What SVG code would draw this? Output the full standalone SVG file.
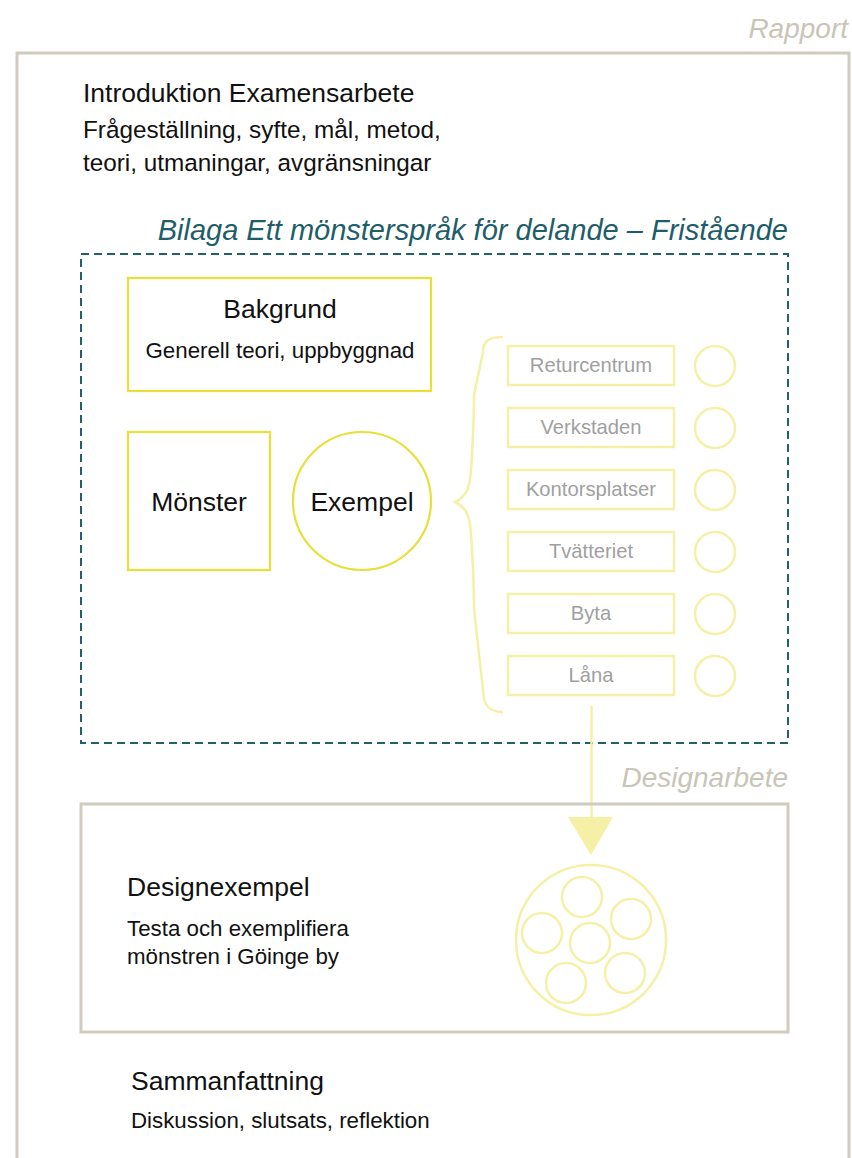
<svg xmlns="http://www.w3.org/2000/svg" width="852" height="1158" viewBox="0 0 852 1158">
<style>
text{font-family:"Liberation Sans",Arial,sans-serif;}
.frame{fill:none;stroke:#cfccbf;stroke-width:3;}
.ylw{fill:none;stroke:#e9df3a;stroke-width:2.2;}
.pale{fill:none;stroke:#f5f0a6;stroke-width:2.5;}
.t26{font-size:26.5px;fill:#111;}
.t22{font-size:22.3px;fill:#111;}
.lbl{font-size:28px;font-style:italic;fill:#c8c5b8;}
.item{font-size:20.2px;fill:#9f9f9f;text-anchor:middle;}
</style>
<rect width="852" height="1158" fill="#fff"/>
<g id="rapport">
<path class="frame" d="M17,1160 V53 H849 V1160"/>
<text class="lbl" x="848" y="38" text-anchor="end">Rapport</text>
</g>
<g id="intro">
<text class="t26" x="83" y="102">Introduktion Examensarbete</text>
<text x="83" y="138" font-size="24.3" fill="#111">Frågeställning, syfte, mål, metod,</text>
<text x="83" y="171" font-size="24.3" fill="#111">teori, utmaningar, avgränsningar</text>
</g>
<g id="bilaga">
<rect x="81" y="254" width="707" height="489" fill="none" stroke="#24606b" stroke-width="2" stroke-dasharray="8,5"/>
<text x="788" y="240" text-anchor="end" font-size="29" font-style="italic" fill="#1f5d69">Bilaga Ett mönsterspråk för delande – Fristående</text>
</g>
<g id="bakgrund">
<rect class="ylw" x="128" y="278" width="303" height="113"/>
<text class="t26" x="280" y="318" text-anchor="middle">Bakgrund</text>
<text class="t22" x="280" y="358" text-anchor="middle">Generell teori, uppbyggnad</text>
</g>
<g id="monster">
<rect class="ylw" x="128" y="432" width="142" height="138"/>
<text class="t26" x="199" y="511" text-anchor="middle">Mönster</text>
</g>
<g id="exempel">
<circle class="ylw" cx="362" cy="501" r="69"/>
<text class="t26" x="362" y="511" text-anchor="middle">Exempel</text>
</g>
<g id="brace">
<path class="pale" d="M503,337 C488,337 483,342 483,352 L474,395 C474,410 473,440 471,470 C470,488 466,497 455,502 C466,507 470,516 471,534 C473,564 474,594 474,609 L483,690 C483,704 488,712 503,712"/>
</g>
<g id="items">
<g id="returcentrum"><rect class="pale" x="508" y="346" width="166" height="39"/><text class="item" x="591" y="372">Returcentrum</text><circle class="pale" cx="715" cy="366" r="20"/></g>
<g id="verkstaden"><rect class="pale" x="508" y="408" width="166" height="39"/><text class="item" x="591" y="434">Verkstaden</text><circle class="pale" cx="715" cy="428" r="20"/></g>
<g id="kontorsplatser"><rect class="pale" x="508" y="470" width="166" height="39"/><text class="item" x="591" y="496">Kontorsplatser</text><circle class="pale" cx="715" cy="490" r="20"/></g>
<g id="tvatteriet"><rect class="pale" x="508" y="532" width="166" height="39"/><text class="item" x="591" y="558">Tvätteriet</text><circle class="pale" cx="715" cy="552" r="20"/></g>
<g id="byta"><rect class="pale" x="508" y="594" width="166" height="39"/><text class="item" x="591" y="620">Byta</text><circle class="pale" cx="715" cy="614" r="20"/></g>
<g id="lana"><rect class="pale" x="508" y="656" width="166" height="39"/><text class="item" x="591" y="682">Låna</text><circle class="pale" cx="715" cy="676" r="20"/></g>
</g>
<g id="connectors">
<line x1="591.5" y1="706" x2="591.5" y2="820" stroke="#f5f0a6" stroke-width="2.5"/>
<polygon points="568,817 613,817 591,855" fill="#f5f0a6"/>
</g>
<g id="designarbete">
<text class="lbl" x="788" y="787" text-anchor="end" font-size="27.7">Designarbete</text>
<rect class="frame" x="81" y="804" width="707" height="228"/>
<text class="t26" x="127" y="896">Designexempel</text>
<text class="t22" x="127" y="936">Testa och exemplifiera</text>
<text class="t22" x="127" y="964">mönstren i Göinge by</text>
</g>
<g id="cluster">
<circle class="pale" cx="591" cy="940" r="75" stroke-width="2"/>
<circle class="pale" cx="582" cy="897" r="20"/>
<circle class="pale" cx="631" cy="919" r="20"/>
<circle class="pale" cx="542" cy="933" r="20"/>
<circle class="pale" cx="590" cy="943" r="20"/>
<circle class="pale" cx="566" cy="983" r="20"/>
<circle class="pale" cx="625" cy="973" r="20"/>
</g>
<g id="sammanfattning">
<text class="t26" x="131" y="1090">Sammanfattning</text>
<text class="t22" x="131" y="1128">Diskussion, slutsats, reflektion</text>
</g>
</svg>
